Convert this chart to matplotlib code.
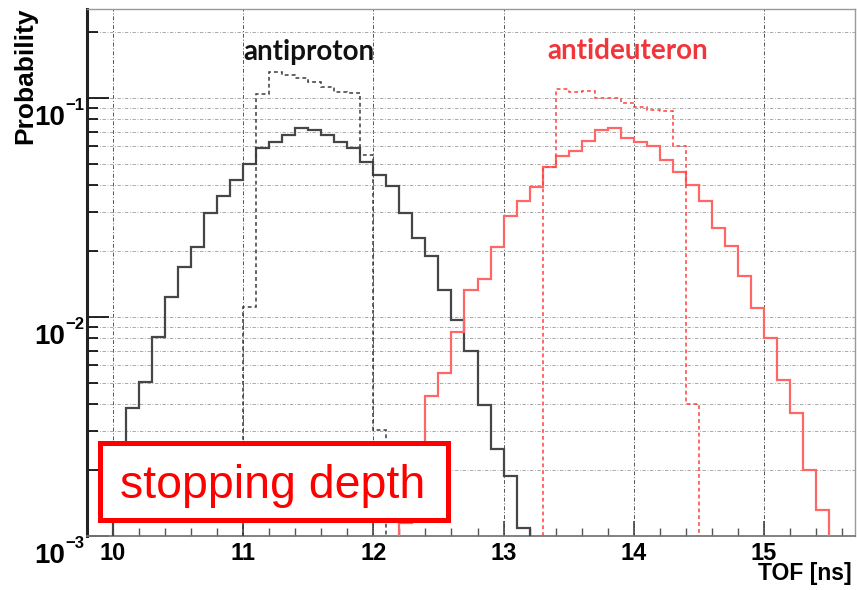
import numpy as np
import matplotlib
matplotlib.use("Agg")
import matplotlib.pyplot as plt
import matplotlib.transforms as mtransforms
from matplotlib.ticker import LogLocator, MultipleLocator, NullFormatter, FixedLocator
from matplotlib.patches import Rectangle

plt.rcParams['font.family'] = ['Liberation Sans', 'DejaVu Sans']

# TOF histograms, 0.1 ns bins (probability per bin)
pbar_edges = np.round(np.arange(10.0, 13.2001, 0.1), 2)
pbar_all = [0.0015, 0.00384, 0.00502, 0.00813, 0.0123, 0.01695, 0.0209, 0.0299,
            0.0356, 0.0421, 0.0498, 0.0587, 0.0630, 0.0675, 0.0724, 0.0712,
            0.0675, 0.0630, 0.0587, 0.0511, 0.0445, 0.0395, 0.0296, 0.0230,
            0.0190, 0.01324, 0.00969, 0.00695, 0.00394, 0.00250, 0.00187, 0.00109]

pbar_stop_edges = np.round(np.arange(11.0, 12.1001, 0.1), 2)
pbar_stop = [0.0111, 0.1037, 0.131, 0.1266, 0.1223, 0.118, 0.112, 0.1063,
             0.1045, 0.0547, 0.00305]

dbar_edges = np.round(np.arange(12.2, 15.5001, 0.1), 2)
dbar_all = [0.00115, 0.0022, 0.00436, 0.00554, 0.00855, 0.01327, 0.0149, 0.0208,
            0.0288, 0.0338, 0.0392, 0.0484, 0.0544, 0.0571, 0.0636, 0.0711,
            0.0724, 0.0652, 0.0627, 0.0601, 0.0519, 0.0459, 0.0399, 0.0337,
            0.0254, 0.0211, 0.0154, 0.0110, 0.0080, 0.00513, 0.00364, 0.00200,
            0.00131]

dbar_stop_edges = np.round(np.arange(13.3, 14.5001, 0.1), 2)
dbar_stop = [0.0484, 0.109, 0.106, 0.1076, 0.0992, 0.0995, 0.0949, 0.0908,
             0.0877, 0.0871, 0.0601, 0.0040]

x_ticks = [10, 11, 12, 13, 14, 15]
y_decades = [-3, -2, -1]

fig = plt.figure(figsize=(8.57, 5.90), dpi=100)
ax = fig.add_axes([0.1015, 0.0915, 0.8962, 0.8932])

ax.stairs(pbar_all, pbar_edges, baseline=1e-4, color='#464646', lw=1.6, zorder=3)
ax.stairs(pbar_stop, pbar_stop_edges, baseline=1e-4, color='#3a3a3a', lw=1.1,
          linestyle=(0, (2.5, 2)), zorder=3)
ax.stairs(dbar_all, dbar_edges, baseline=1e-4, color='#ff6666', lw=1.6, zorder=3)
ax.stairs(dbar_stop, dbar_stop_edges, baseline=1e-4, color='#ff4040', lw=1.1,
          linestyle=(0, (2.5, 2)), zorder=3)

ax.set_yscale('log')
ax.set_xlim(9.8, 15.7)
ax.set_ylim(1e-3, 0.2535)

ax.xaxis.set_major_locator(FixedLocator(x_ticks))
ax.xaxis.set_minor_locator(MultipleLocator(0.2))
ax.yaxis.set_major_locator(LogLocator(base=10, numticks=10))
ax.yaxis.set_minor_locator(LogLocator(base=10, subs=np.arange(2, 10), numticks=20))
ax.yaxis.set_major_formatter(NullFormatter())
ax.yaxis.set_minor_formatter(NullFormatter())

ax.tick_params(axis='both', which='both', direction='in')
ax.tick_params(axis='y', which='major', length=16, width=1.2)
ax.tick_params(axis='y', which='minor', length=8, width=1.2)
ax.tick_params(axis='x', which='major', length=11, width=1.2, pad=4, labelsize=17,
               color='#444444')
ax.tick_params(axis='x', which='minor', length=6, width=1.0, color='#555555')
for lab in ax.get_xticklabels():
    lab.set_fontweight('bold')

# decade labels on the y axis: big "10" with a small exponent
ylab_tr = mtransforms.blended_transform_factory(fig.transFigure, ax.transData)
down = mtransforms.ScaledTranslation(0, -5 / 72, fig.dpi_scale_trans)
for d in y_decades:
    ax.text(65 / 857, 10.0 ** d, '10', transform=ylab_tr + down, ha='right', va='top',
            fontsize=20, fontweight='bold', clip_on=False)
    ax.text(65 / 857, 10.0 ** d, '\u2212%d' % abs(d), transform=ylab_tr, ha='left',
            va='top', fontsize=12, fontweight='bold', clip_on=False)

ax.xaxis.grid(True, which='major', color='#555555', lw=0.7, linestyle=(0, (4, 2, 1, 2)))
ax.yaxis.grid(True, which='both', color='#9a9a9a', lw=0.6, linestyle=(0, (4, 2, 1, 2)))
ax.set_axisbelow(True)

ax.spines['left'].set_linewidth(2.2)
ax.spines['left'].set_color('#222222')
ax.spines['bottom'].set_linewidth(1.3)
ax.spines['bottom'].set_color('#777777')
for side in ('top', 'right'):
    ax.spines[side].set_linewidth(1.0)
    ax.spines[side].set_color('#999999')

fig.text(25 / 857, 1 - 8 / 590, 'Probability', rotation=90, ha='center', va='top',
         fontsize=19, fontweight='bold')
fig.text(852 / 857, 1 - 580 / 590, 'TOF [ns]', ha='right', va='baseline',
         fontsize=16.5, fontweight='bold')

fig.text(309 / 857, 1 - 60 / 590, 'antiproton', ha='center', va='baseline',
         fontsize=20, fontweight='bold', family=['Lato', 'DejaVu Sans'], color='#111111')
fig.text(628 / 857, 1 - 59 / 590, 'antideuteron', ha='center', va='baseline',
         fontsize=20, fontweight='bold', family=['Lato', 'DejaVu Sans'], color='#f0353b')

box = Rectangle((99.5 / 857, 1 - 519.5 / 590), 348.5 / 857, 77 / 590,
                transform=fig.transFigure, facecolor='white', edgecolor='#ff0000',
                lw=3.6, zorder=10, clip_on=False)
fig.patches.append(box)
fig.text(120 / 857, 1 - 498 / 590, 'stopping depth', ha='left', va='baseline',
         fontsize=33.5, color='#ff0000', zorder=11)

fig.savefig('out.png', dpi=100)
